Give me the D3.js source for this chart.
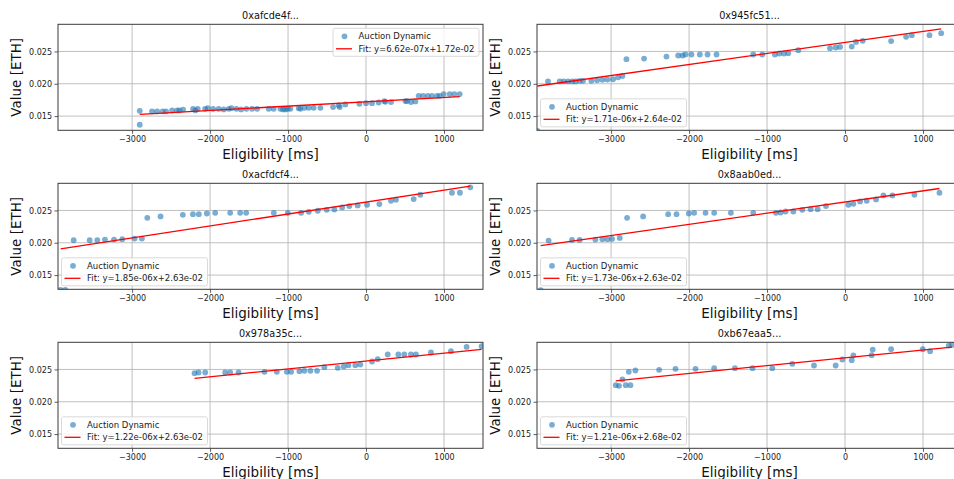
<!DOCTYPE html>
<html><head><meta charset="utf-8">
<script src="https://cdn.jsdelivr.net/npm/d3@7"></script>
<style>
html,body{margin:0;padding:0;background:#fff;}
svg{display:block;font-family:"DejaVu Sans",sans-serif;}
</style></head>
<body>
<svg id="chart" width="954" height="479"></svg>
<script>
const titles = ["0xafcde4f...", "0x945fc51...", "0xacfdcf4...", "0x8aab0ed...", "0x978a35c...", "0xb67eaa5..."];
const seriesName = "Auction Dynamic";
const xLabel = "Eligibility [ms]";
const yLabel = "Value [ETH]";
const xTicks = [-3000, -2000, -1000, 0, 1000];
const yTicks = [0.015, 0.020, 0.025];
const xDomain = [-3950, 1500];
const yDomain = [0.0128, 0.0292];
const slopes = [6.62e-07, 1.71e-06, 1.85e-06, 1.73e-06, 1.22e-06, 1.21e-06];
const intercepts = [1.72e-02, 2.64e-02, 2.63e-02, 2.63e-02, 2.63e-02, 2.68e-02];
const legendPos = ["upper right", "lower left", "lower left", "lower left", "lower left", "lower left"];

const x1 = [-2902,-2902,-2744,-2679,-2607,-2564,-2487,-2423,-2393,-2346,-2218,-2188,-2158,-2064,-2030,-1961,-1889,-1825,-1760,-1726,-1662,-1602,-1534,-1461,-1397,-1248,-1184,-1098,-1064,-1034,-1004,-970,-863,-842,-790,-735,-671,-585,-423,-350,-337,-265,-85,0,77,162,235,248,321,505,526,577,633,675,731,791,846,911,945,996,1073,1133,1201];
const y1 = [0.01582,0.01366,0.01572,0.01572,0.01572,0.01572,0.01588,0.01588,0.01588,0.0160,0.01613,0.01588,0.01613,0.01613,0.01623,0.01613,0.01613,0.01603,0.01613,0.01623,0.01613,0.01603,0.01613,0.01613,0.01613,0.01613,0.01613,0.01613,0.01603,0.01603,0.01613,0.01613,0.01623,0.01613,0.01628,0.01628,0.01628,0.01628,0.01639,0.01665,0.01639,0.0168,0.0169,0.0170,0.0170,0.0171,0.01732,0.01721,0.01716,0.01732,0.01732,0.01716,0.01726,0.01814,0.01814,0.01814,0.01814,0.01814,0.01814,0.0184,0.0184,0.0184,0.0184];

const x2 = [-3945,-3809,-3659,-3608,-3552,-3497,-3454,-3403,-3360,-3253,-3180,-3112,-3047,-2975,-2910,-2855,-2803,-2577,-2290,-2140,-2084,-2046,-1969,-1862,-1763,-1648,-1177,-1061,-899,-843,-783,-728,-599,-193,-120,-64,86,141,227,591,783,856,1083,1233];
const y2 = [0.0127,0.02036,0.02036,0.02036,0.02036,0.02036,0.02036,0.02046,0.02046,0.02046,0.02056,0.02061,0.02066,0.0207,0.021,0.0212,0.0238,0.0239,0.0242,0.02437,0.02437,0.02453,0.02453,0.02453,0.02453,0.02453,0.02453,0.02453,0.02453,0.02468,0.02468,0.02473,0.0252,0.0255,0.02561,0.0257,0.02576,0.02648,0.02664,0.0266,0.02726,0.02751,0.02751,0.02782];

const x3 = [-3916,-3856,-3749,-3544,-3446,-3348,-3232,-3126,-2968,-2874,-2805,-2635,-2349,-2220,-2144,-2041,-1934,-1742,-1614,-1537,-1183,-1003,-833,-734,-619,-504,-406,-307,-214,-107,13,171,320,384,611,696,1102,1204,1337];
const y3 = [0.0127,0.0127,0.02039,0.02039,0.02039,0.0205,0.0205,0.02055,0.02065,0.02065,0.02386,0.02407,0.02432,0.02443,0.02443,0.02453,0.02463,0.02463,0.02463,0.02463,0.02463,0.02463,0.02463,0.02479,0.02495,0.0251,0.02515,0.02546,0.02567,0.02577,0.02588,0.02598,0.0265,0.02666,0.02676,0.02743,0.02774,0.02774,0.02857];

const x4 = [-3903,-3801,-3501,-3403,-3202,-3112,-3047,-2988,-2889,-2795,-2589,-2268,-2161,-2003,-1935,-1789,-1678,-1464,-1177,-886,-826,-762,-663,-548,-441,-351,-244,43,107,193,278,398,492,608,890,1211];
const y4 = [0.01267,0.02034,0.02044,0.02044,0.0205,0.02055,0.02055,0.0206,0.02075,0.02386,0.02407,0.02443,0.02443,0.02453,0.02463,0.02463,0.02463,0.02463,0.02463,0.02463,0.02468,0.02484,0.02484,0.0251,0.0252,0.0252,0.02567,0.02588,0.02603,0.0264,0.0265,0.0267,0.02733,0.02733,0.02743,0.02774];

const x5 = [-2199,-2148,-2062,-1806,-1742,-1635,-1302,-1144,-1016,-961,-854,-790,-713,-628,-534,-363,-286,-226,-137,-73,77,149,278,414,491,576,640,833,1089,1290,1482];
const y5 = [0.02442,0.02453,0.02453,0.02453,0.02453,0.02453,0.02463,0.02463,0.02463,0.02463,0.02473,0.02479,0.02479,0.02479,0.02535,0.02525,0.02545,0.02566,0.02566,0.02576,0.02623,0.02659,0.02731,0.02731,0.02731,0.02731,0.02731,0.02762,0.02782,0.02849,0.0286];

const x6 = [-2940,-2898,-2855,-2812,-2773,-2752,-2688,-2384,-2174,-1917,-1678,-1412,-1186,-933,-676,-398,-120,-34,86,107,342,355,591,997,1091,1330,1372];
const y6 = [0.02257,0.02247,0.02345,0.02257,0.02463,0.02257,0.02484,0.02494,0.02509,0.02509,0.0252,0.0252,0.0252,0.0252,0.02587,0.02561,0.02561,0.02654,0.02643,0.02716,0.02721,0.02808,0.02813,0.02813,0.02782,0.02869,0.0288];

const xsAll = [x1, x2, x3, x4, x5, x6];
const ysAll = [y1, y2, y3, y4, y5, y6];

const svg = d3.select("#chart");
const colLeft = [58, 537];
const rowTop = [24.3, 183.3, 342.3];
const W = 425, H = 106;
const dotColor = "#1f77b4";
const font = "DejaVu Sans, sans-serif";

function sci(v) {
  const s = v.toExponential(2);
  const [m, e] = s.split("e");
  const sign = e[0] === "-" ? "-" : "+";
  const n = Math.abs(parseInt(e, 10));
  return m + "e" + sign + (n < 10 ? "0" + n : "" + n);
}

const defs = svg.append("defs");

titles.forEach((title, i) => {
  const col = i % 2, row = Math.floor(i / 2);
  const left = colLeft[col], top = rowTop[row];
  const g = svg.append("g").attr("transform", `translate(${left},${top})`);
  const x = d3.scaleLinear().domain(xDomain).range([0, W]);
  const y = d3.scaleLinear().domain(yDomain).range([H, 0]);

  const clipId = "clip" + i;
  defs.append("clipPath").attr("id", clipId).append("rect").attr("x", 0).attr("y", 0).attr("width", W).attr("height", H);

  // grid
  const grid = g.append("g");
  grid.selectAll("line.gx").data(xTicks).enter().append("line")
    .attr("x1", d => x(d)).attr("x2", d => x(d)).attr("y1", 0).attr("y2", H)
    .attr("stroke", "#b0b0b0").attr("stroke-width", 0.8);
  grid.selectAll("line.gy").data(yTicks).enter().append("line")
    .attr("x1", 0).attr("x2", W).attr("y1", d => y(d)).attr("y2", d => y(d))
    .attr("stroke", "#b0b0b0").attr("stroke-width", 0.8);

  const plot = g.append("g").attr("clip-path", `url(#${clipId})`);
  const xs = xsAll[i], ys = ysAll[i];
  const pts = xs.map((v, k) => ({x: v, y: ys[k]}));
  plot.selectAll("circle").data(pts).enter().append("circle")
    .attr("cx", d => x(d.x)).attr("cy", d => y(d.y)).attr("r", 2.9)
    .attr("fill", dotColor).attr("fill-opacity", 0.6);

  const xmin = d3.min(xs), xmax = d3.max(xs);
  const fitPts = [xmin, xmax].map(v => ({x: v, y: slopes[i] * v + intercepts[i]}));
  plot.append("path").datum(fitPts)
    .attr("d", d3.line().x(d => x(d.x)).y(d => y(d.y)))
    .attr("stroke", "red").attr("stroke-width", 1.3).attr("fill", "none");

  // axes
  const xAxis = d3.axisBottom(x).tickValues(xTicks).tickSize(3.5).tickPadding(2.5)
    .tickFormat(d => d < 0 ? "\u2212" + Math.abs(d) : String(d));
  const yAxis = d3.axisLeft(y).tickValues(yTicks).tickSize(3.5).tickPadding(2.5)
    .tickFormat(d3.format(".3f"));
  const gx = g.append("g").attr("transform", `translate(0,${H})`).call(xAxis);
  const gy = g.append("g").call(yAxis);
  [gx, gy].forEach(a => {
    a.select(".domain").remove();
    a.selectAll(".tick line").attr("stroke", "#333").attr("stroke-width", 0.8);
    a.selectAll(".tick text").attr("fill", "#222").style("font-size", "8px").style("font-family", font);
  });

  g.append("rect").attr("x", 0).attr("y", 0).attr("width", W).attr("height", H)
    .attr("fill", "none").attr("stroke", "#3a3a3a").attr("stroke-width", 1);

  g.append("text").attr("x", W / 2).attr("y", -5).attr("text-anchor", "middle")
    .style("font-size", "9.7px").style("font-family", font).attr("fill", "#111").text(title);
  g.append("text").attr("x", W / 2).attr("y", H + 29).attr("text-anchor", "middle")
    .style("font-size", "13.5px").style("font-family", font).attr("fill", "#111").text(xLabel);
  g.append("text").attr("transform", `translate(${-37},${H / 2}) rotate(-90)`)
    .attr("text-anchor", "middle").style("font-size", "13.5px").style("font-family", font)
    .attr("fill", "#111").text(yLabel);

  // legend
  const lw = 146, lh = 28;
  const lx = legendPos[i] === "upper right" ? W - 4 - lw : 3.5;
  const ly = legendPos[i] === "upper right" ? 4 : H - 3.5 - lh;
  const lg = g.append("g").attr("transform", `translate(${lx},${ly})`);
  lg.append("rect").attr("width", lw).attr("height", lh).attr("rx", 2)
    .attr("fill", "#fff").attr("fill-opacity", 0.8).attr("stroke", "#d0d0d0").attr("stroke-width", 0.8);
  lg.append("circle").attr("cx", 11.5).attr("cy", 8).attr("r", 2.9)
    .attr("fill", dotColor).attr("fill-opacity", 0.6);
  lg.append("text").attr("x", 25.5).attr("y", 11).style("font-size", "8.5px").style("font-family", font)
    .attr("fill", "#222").text(seriesName);
  lg.append("line").attr("x1", 3).attr("x2", 19).attr("y1", 20.5).attr("y2", 20.5)
    .attr("stroke", "red").attr("stroke-width", 1.3);
  lg.append("text").attr("x", 25.5).attr("y", 23.5).style("font-size", "8.5px").style("font-family", font)
    .attr("fill", "#222").text(`Fit: y=${sci(slopes[i])}x+${sci(intercepts[i])}`);
});
</script>
</body></html>
